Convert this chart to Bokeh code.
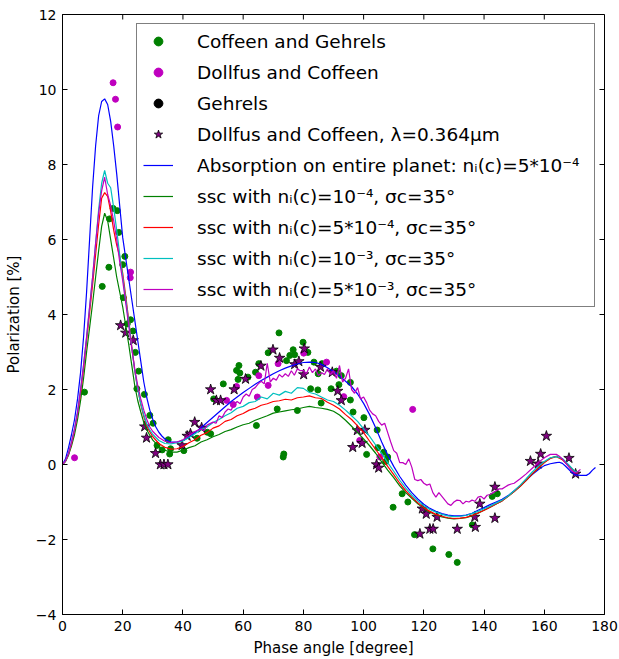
import math
from bokeh.plotting import figure
from bokeh.models import Legend, LegendItem, FixedTicker, CustomJSTickFormatter
from bokeh.embed import file_html
from bokeh.resources import INLINE

# ---------------- data ----------------
x_ticks = [0, 20, 40, 60, 80, 100, 120, 140, 160, 180]
y_ticks = [-4, -2, 0, 2, 4, 6, 8, 10, 12]
x_lim = (0, 180)
y_lim = (-4, 12)

# Coffeen and Gehrels (green dots)
cg_x = [7.3, 13.2, 15.4, 15.6, 16.8, 18.2, 18.7, 20.0, 20.7, 20.2, 21.5, 22.6, 23.4,
        24.2, 25.3, 24.7, 27.2, 29.0, 30.1, 31.4, 33.1, 35.6, 35.1, 35.9, 40.3, 44.7,
        48.1, 49.2, 50.2, 53.4, 57.8, 58.3, 58.6, 58.9, 61.6, 64.1, 64.4, 65.2, 68.3,
        71.3, 71.9, 73.3, 73.5, 74.4, 75.5, 76.6, 77.1, 78.0, 79.9, 81.5, 82.4, 83.5,
        84.8, 84.9, 85.9, 86.2, 89.2, 91.0, 91.8, 92.6, 95.6, 95.6, 96.5, 100.1, 101.0,
        104.5, 104.7, 106.7, 107.3, 108.0, 109.8, 112.8, 114.7, 116.9, 123.0, 128.3,
        131.1, 136.1, 142.7, 144.4]
cg_y = [1.93, 4.75, 5.26, 6.55, 6.83, 6.77, 6.19, 5.33, 5.55, 4.45, 3.75, 3.86, 3.56,
        2.99, 2.49, 2.02, 1.87, 1.31, 1.10, 0.51, 0.39, 0.28, 0.66, 0.42, 0.37, 0.70,
        0.86, 0.82, 1.75, 2.15, 2.51, 2.27, 2.64, 2.44, 2.33, 2.46, 1.04, 2.69, 2.98,
        1.48, 3.51, 0.20, 0.28, 2.77, 2.91, 3.06, 2.93, 1.44, 3.26, 2.99, 2.02, 2.73,
        1.99, 2.42, 1.64, 2.69, 2.02, 2.49, 2.13, 2.37, 2.19, 1.72, 1.40, 1.25, 0.27,
        0.92, 0.45, 0.33, 0.08, 0.20, -1.14, -0.78, -1.00, -1.87, -2.25, -2.40,
        -2.61, -1.61, -0.85, -0.78]

# Dollfus and Coffeen (magenta dots)
dc_x = [4.0, 16.8, 17.6, 18.3, 22.6, 22.5, 54.5, 56.7, 57.8, 64.7, 65.2, 68.3, 71.6,
        80.1, 87.7, 93.4, 98.7, 105.4, 116.3]
dc_y = [0.18, 10.18, 9.74, 9.00, 5.13, 4.98, 1.71, 1.60, 2.08, 1.80, 2.37, 2.11, 2.69,
        2.97, 2.73, 1.81, 0.64, 0.20, 1.47]

# Gehrels (black dots) - no point of this series is visible in the picture
ge_x = []
ge_y = []

# Dollfus and Coffeen, lambda = 0.364 um (stars)
st_x = [19.3, 21.0, 23.5, 27.3, 27.9, 30.9, 32.5, 33.7, 35.0, 39.7, 41.4, 42.5, 43.9,
        46.2, 49.2, 51.1, 52.5, 57.0, 60.8, 65.9, 69.9, 72.1, 77.1, 78.5, 80.1, 80.3,
        85.7, 89.6, 91.4, 92.6, 96.4, 97.9, 99.5, 100.4, 104.3, 105.0, 118.7, 119.5,
        120.8, 122.0, 123.1, 124.4, 131.1, 136.9, 137.1, 138.6, 143.6, 143.6, 155.4,
        158.0, 158.8, 160.7, 168.2, 170.4]
st_y = [3.71, 3.51, 3.31, 1.01, 0.71, 0.30, 0.00, 0.00, 0.00, 0.51, 0.76, 0.82, 1.13,
        0.98, 2.00, 1.71, 1.71, 2.00, 2.28, 2.63, 3.06, 2.84, 2.67, 2.75, 2.40, 3.09,
        2.60, 2.46, 1.96, 1.71, 0.46, 0.91, 0.57, 0.92, 0.00, -0.09, -1.85, -1.18,
        -1.32, -1.72, -1.72, -1.40, -1.72, -1.40, -1.67, -1.05, -1.43, -0.60, 0.09,
        0.02, 0.28, 0.76, 0.17, -0.25]

# Absorption on entire planet (blue)
blue_x = [0, 1, 2, 3, 4, 5, 6, 7, 8, 9, 10, 11, 12, 13, 14, 15, 16, 17, 18, 19, 20, 21,
          22, 23, 24, 25, 26, 27, 28, 29, 30, 31, 32, 33, 34, 35, 36, 38, 40, 42, 44, 46,
          48, 50, 52, 54, 56, 58, 60, 62, 64, 66, 68, 70, 72, 74, 76, 78, 80, 82, 84, 86,
          88, 90, 92, 94, 96, 98, 100, 102, 104, 106, 108, 110, 112, 114, 116, 118, 120,
          122, 124, 126, 128, 130, 132, 134, 136, 138, 140, 142, 144, 146, 148, 150, 152,
          154, 156, 158, 160, 162, 164, 165, 166, 167, 168, 169, 170, 172, 174, 175, 176,
          177]
blue_y = [0, 0.15, 0.45, 0.8, 1.2, 1.75, 2.45, 3.4, 4.6, 6.0, 7.4, 8.5, 9.3, 9.68, 9.75,
          9.6, 9.15, 8.5, 7.75, 6.9, 6.05, 5.5, 4.95, 4.4, 3.85, 3.3, 2.75, 2.2, 1.78,
          1.45, 1.2, 1.0, 0.86, 0.76, 0.68, 0.63, 0.6, 0.6, 0.64, 0.73, 0.85, 0.98, 1.12,
          1.26, 1.4, 1.54, 1.68, 1.8, 1.92, 2.03, 2.14, 2.24, 2.33, 2.42, 2.5, 2.57,
          2.63, 2.68, 2.72, 2.73, 2.72, 2.67, 2.58, 2.48, 2.36, 2.22, 2.08, 1.88, 1.63,
          1.33, 0.98, 0.6, 0.25, -0.05, -0.32, -0.55, -0.75, -0.92, -1.06, -1.17, -1.25,
          -1.31, -1.35, -1.37, -1.37, -1.35, -1.3, -1.22, -1.15, -1.07, -1.0, -0.93,
          -0.83, -0.7, -0.57, -0.42, -0.27, -0.14, -0.03, 0.02, 0.05, 0.06, 0.03, -0.04,
          -0.12, -0.2, -0.27, -0.29, -0.29, -0.24, -0.15, -0.08]

# common phase-angle grid of the ssc curves
ssc_x = [0, 1, 2, 3, 4, 5, 6, 7, 8, 9, 10, 11, 12, 13, 14, 15, 16, 17, 18, 19, 20, 21,
         22, 23, 24, 25, 26, 27, 28, 29, 30, 32, 34, 36, 38, 40, 42, 44, 46, 48, 50, 52,
         54, 56, 58, 60, 62, 64, 66, 68, 70, 72, 74, 76, 78, 80, 82, 84, 86, 88, 90, 92,
         94, 96, 98, 100, 102, 104, 106, 108, 110, 112, 114, 116, 118, 120, 122, 124,
         126, 128, 130, 132, 134, 136, 138, 140, 142, 144, 146, 148, 150, 152, 154, 156,
         158, 160, 162, 164, 166, 168, 170, 171]

# ssc n_i(c)=1e-4 (green)
green_y = [0, 0.08, 0.25, 0.5, 0.8, 1.2, 1.7, 2.3, 3.0, 3.65, 4.3, 5.0, 5.7, 6.35, 6.7,
           6.5, 6.0, 5.5, 5.0, 4.6, 4.2, 3.7, 3.2, 2.65, 2.1, 1.7, 1.4, 1.12, 0.92, 0.78,
           0.65, 0.48, 0.38, 0.33, 0.33, 0.38, 0.45, 0.5, 0.6, 0.66, 0.74, 0.8, 0.88,
           0.93, 1.0, 1.06, 1.1, 1.18, 1.24, 1.3, 1.37, 1.4, 1.43, 1.46, 1.48, 1.52, 1.55,
           1.52, 1.5, 1.47, 1.42, 1.32, 1.18, 1.02, 0.85, 0.68, 0.5, 0.3, 0.07, -0.15,
           -0.35, -0.57, -0.75, -0.9, -1.05, -1.17, -1.27, -1.34, -1.4, -1.43, -1.45,
           -1.44, -1.42, -1.37, -1.3, -1.22, -1.14, -1.05, -0.97, -0.85, -0.72, -0.58,
           -0.42, -0.25, -0.1, 0.05, 0.17, 0.22, 0.14, -0.02, -0.18, -0.22]

# ssc n_i(c)=5e-4 (red)
red_y = [0, 0.09, 0.28, 0.55, 0.9, 1.35, 1.9, 2.55, 3.3, 4.05, 4.8, 5.6, 6.4, 7.1, 7.25,
         7.15, 6.75, 6.25, 5.85, 5.55, 5.1, 4.5, 3.85, 3.15, 2.5, 2.0, 1.6, 1.28, 1.03,
         0.87, 0.74, 0.56, 0.46, 0.41, 0.42, 0.48, 0.58, 0.66, 0.78, 0.85, 0.97, 1.03,
         1.15, 1.2, 1.3, 1.36, 1.45, 1.5, 1.58, 1.62, 1.68, 1.7, 1.74, 1.72, 1.78, 1.8,
         1.83, 1.78, 1.76, 1.66, 1.58, 1.48, 1.33, 1.2, 1.03, 0.85, 0.62, 0.4, 0.18,
         -0.05, -0.27, -0.5, -0.7, -0.87, -1.02, -1.15, -1.25, -1.33, -1.38, -1.42,
         -1.44, -1.43, -1.41, -1.36, -1.29, -1.22, -1.14, -1.05, -0.97, -0.85, -0.72,
         -0.58, -0.42, -0.25, -0.1, 0.05, 0.16, 0.21, 0.13, -0.03, -0.19, -0.23]

# ssc n_i(c)=1e-3 (cyan)
cyan_y = [0, 0.1, 0.3, 0.6, 0.95, 1.4, 2.0, 2.65, 3.4, 4.2, 5.0, 5.9, 6.8, 7.5, 7.84,
          7.5, 7.38, 6.85, 6.25, 5.6, 5.0, 4.4, 3.8, 3.12, 2.5, 2.0, 1.62, 1.32, 1.08,
          0.92, 0.8, 0.64, 0.56, 0.55, 0.58, 0.63, 0.72, 0.82, 0.93, 1.0, 1.12, 1.2, 1.3,
          1.38, 1.5, 1.55, 1.65, 1.68, 1.8, 1.75, 1.9, 1.85, 1.95, 1.9, 2.05, 2.03, 1.92,
          1.88, 1.8, 1.72, 1.68, 1.58, 1.45, 1.3, 1.15, 0.95, 0.75, 0.52, 0.3, 0.05,
          -0.18, -0.42, -0.63, -0.82, -0.97, -1.1, -1.2, -1.27, -1.33, -1.37, -1.39,
          -1.38, -1.36, -1.31, -1.25, -1.18, -1.11, -1.03, -0.95, -0.84, -0.7, -0.55,
          -0.38, -0.2, -0.05, 0.08, 0.18, 0.21, 0.16, 0.0, -0.17, -0.21]

# ssc n_i(c)=5e-3 (magenta)
mag_x = [0, 1, 2, 3, 4, 5, 6, 7, 8, 9, 10, 11, 12, 13, 14, 15, 16, 17, 18, 19, 20, 21,
         22, 23, 24, 25, 26, 27, 28, 29, 30, 32, 34, 36, 38, 40, 42, 44, 46, 47, 48, 50,
         51, 52, 53, 54, 55, 56, 57, 58, 59, 60, 61, 62, 63, 64, 65, 66, 67, 68, 69, 70,
         71, 72, 73, 74, 75, 76, 77, 78, 79, 80, 81, 82, 83, 84, 85, 86, 87, 88, 89, 90,
         91, 92, 93, 94, 95, 96, 97, 98, 99, 100, 101, 102, 103, 104, 105, 106, 107, 108,
         109, 110, 111, 112, 113, 114, 115, 116, 117, 118, 119, 120, 121, 122, 123, 124,
         125, 126, 127, 128, 129, 130, 131, 132, 133, 134, 135, 136, 137, 138, 139, 140,
         141, 142, 143, 144, 145, 146, 147, 148, 149, 150, 152, 154, 156, 158, 160, 162,
         164, 165, 166, 167, 168, 169, 170, 171, 172]
mag_y = [0, 0.1, 0.3, 0.6, 0.95, 1.4, 2.0, 2.65, 3.4, 4.2, 5.0, 5.9, 6.7, 7.3, 7.66, 7.2,
         6.9, 6.5, 6.0, 5.4, 4.9, 4.3, 3.7, 3.1, 2.55, 2.1, 1.75, 1.45, 1.2, 1.0, 0.88,
         0.72, 0.62, 0.58, 0.6, 0.66, 0.77, 0.88, 0.95, 0.9, 1.05, 1.13, 1.1, 1.3, 1.25,
         1.4, 1.48, 1.45, 1.6, 1.68, 1.62, 1.8, 1.88, 1.82, 2.0, 2.05, 2.15, 2.22, 2.15,
         2.7, 2.2, 2.3, 2.25, 2.4, 2.33, 2.42, 2.35, 2.5, 2.38, 2.55, 2.5, 2.51, 2.42,
         2.6, 2.45, 2.55, 2.37, 2.45, 2.4, 2.55, 2.4, 2.5, 2.3, 2.64, 2.2, 2.3, 2.55, 2.0,
         1.9, 2.05, 1.75, 1.8, 1.65, 1.45, 1.35, 1.3, 1.15, 1.05, 1.1, 0.85, 0.6, 0.37,
         0.3, 0.05, 0.05, 0.0, 0.15, -0.07, -0.4, -0.43, -0.4, -0.5, -0.55, -0.52, -0.75,
         -0.87, -0.75, -0.85, -0.95, -1.05, -1.09, -1.0, -0.95, -0.96, -1.05, -0.98,
         -1.0, -0.95, -0.98, -0.87, -0.85, -0.92, -0.82, -0.8, -0.75, -0.7, -0.65, -0.65,
         -0.6, -0.55, -0.52, -0.5, -0.38, -0.25, -0.1, 0.05, 0.18, 0.27, 0.27, 0.22,
         0.15, 0.05, -0.05, -0.15, -0.22, -0.2, -0.13]

labels = [
    "Coffeen and Gehrels",
    "Dollfus and Coffeen",
    "Gehrels",
    "Dollfus and Coffeen, \u03bb=0.364\u03bcm",
    "Absorption on entire planet: n\u1d62(c)=5*10\u207b\u2074",
    "ssc with n\u1d62(c)=10\u207b\u2074, \u03c3c=35\u00b0",
    "ssc with n\u1d62(c)=5*10\u207b\u2074, \u03c3c=35\u00b0",
    "ssc with n\u1d62(c)=10\u207b\u00b3, \u03c3c=35\u00b0",
    "ssc with n\u1d62(c)=5*10\u207b\u00b3, \u03c3c=35\u00b0",
]

# ---------------- figure ----------------
FONT = "DejaVu Sans"
TICK_LEN = 5
LW = 1.2
p = figure(width=619, height=659, x_range=x_lim, y_range=y_lim,
           output_backend="svg", toolbar_location=None,
           min_border_left=62, min_border_right=15, min_border_top=14,
           min_border_bottom=45)
p.background_fill_color = "white"
p.border_fill_color = "white"
p.outline_line_color = "black"
p.outline_line_width = 1
p.xgrid.visible = False
p.ygrid.visible = False

minus_fmt = CustomJSTickFormatter(
    code="return tick < 0 ? '\u2212' + String(-tick) : String(tick);")

p.xaxis.ticker = FixedTicker(ticks=x_ticks)
p.yaxis.ticker = FixedTicker(ticks=y_ticks)
p.yaxis.formatter = minus_fmt

for ax in list(p.xaxis) + list(p.yaxis):
    ax.major_tick_in = TICK_LEN
    ax.major_tick_out = 0
    ax.minor_tick_in = 0
    ax.minor_tick_out = 0
    ax.axis_line_color = "black"
    ax.major_tick_line_color = "black"
    ax.major_label_text_font = FONT
    ax.major_label_text_font_size = "14px"
    ax.major_label_text_color = "black"
    ax.axis_label_text_font = FONT
    ax.axis_label_text_font_size = "15px"
    ax.axis_label_text_font_style = "normal"
    ax.axis_label_text_color = "black"

p.xaxis.axis_label = "Phase angle [degree]"
p.yaxis.axis_label = "Polarization [%]"
p.xaxis.major_label_standoff = 6
p.yaxis.major_label_standoff = 6
p.xaxis.axis_label_standoff = 5
p.yaxis.axis_label_standoff = 10

# mirrored inward ticks on the top and right frame edges (screen-length rays)
p.ray(x=x_ticks, y=[y_lim[1]] * len(x_ticks), length=TICK_LEN, length_units="screen",
      angle=-math.pi / 2, line_color="black", line_width=1)
p.ray(x=[x_lim[1]] * len(y_ticks), y=y_ticks, length=TICK_LEN, length_units="screen",
      angle=math.pi, line_color="black", line_width=1)

# ---------------- data glyphs ----------------
r_cg = p.scatter(cg_x, cg_y, marker="circle", size=6, fill_color="#008000",
                 line_color="#008000")
r_dc = p.scatter(dc_x, dc_y, marker="circle", size=6, fill_color="#bf00bf",
                 line_color="#bf00bf")
p.scatter(ge_x, ge_y, marker="circle", size=6, fill_color="black", line_color="black")
# legend-only handle for the (empty) Gehrels series
r_ge = p.scatter([float("nan")], [float("nan")], marker="circle", size=6,
                 fill_color="black", line_color="black")
r_st = p.scatter(st_x, st_y, marker="star", size=11, fill_color="#800080",
                 line_color="black", line_width=0.8)

r_blue = p.line(blue_x, blue_y, line_color="#0000ff", line_width=LW)
r_green = p.line(ssc_x, green_y, line_color="#008000", line_width=LW)
r_red = p.line(ssc_x, red_y, line_color="#ff0000", line_width=LW)
r_cyan = p.line(ssc_x, cyan_y, line_color="#00bfbf", line_width=LW)
r_mag = p.line(mag_x, mag_y, line_color="#bf00bf", line_width=LW)

renderers = [r_cg, r_dc, r_ge, r_st, r_blue, r_green, r_red, r_cyan, r_mag]
items = [LegendItem(label=lab, renderers=[r]) for lab, r in zip(labels, renderers)]
legend = Legend(items=items, location="top_right", margin=9, padding=6,
                spacing=9, glyph_width=30, glyph_height=22, label_height=22,
                label_width=391, label_standoff=24, label_text_font=FONT,
                label_text_font_size="18.5px", label_text_color="black",
                border_line_color="black", border_line_width=1,
                background_fill_color="white", background_fill_alpha=1)
p.add_layout(legend, "center")

open("out.html", "w").write(file_html(p, INLINE))
